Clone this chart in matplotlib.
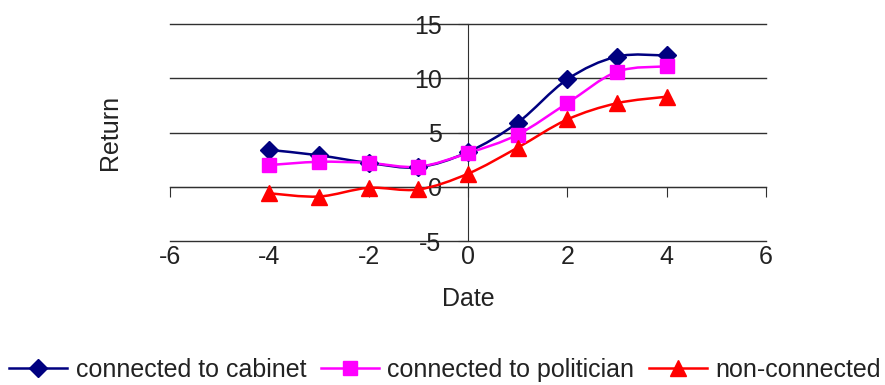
import matplotlib
matplotlib.use("Agg")
import matplotlib.pyplot as plt
from matplotlib.path import Path
from matplotlib.patches import PathPatch
import numpy as np

plt.rcParams['font.family'] = ['Liberation Sans', 'DejaVu Sans']
plt.rcParams['axes.unicode_minus'] = False

days = [-4, -3, -2, -1, 0, 1, 2, 3, 4]
cabinet = [3.4, 2.9, 2.2, 1.8, 3.2, 5.9, 9.9, 12.0, 12.1]
politician = [2.0, 2.3, 2.2, 1.85, 3.1, 4.8, 7.7, 10.6, 11.1]
non_connected = [-0.6, -0.9, -0.1, -0.25, 1.2, 3.6, 6.2, 7.7, 8.3]

x_ticks = [-6, -4, -2, 0, 2, 4, 6]
y_ticks = [-5, 0, 5, 10, 15]

series = [
    ("connected to cabinet", cabinet, "#000080", "D", 9),
    ("connected to politician", politician, "#ff00ff", "s", 10),
    ("non-connected", non_connected, "#ff0000", "^", 11),
]


def smooth_path(xs, ys):
    # Bezier curve through every point, same style as a "smoothed line"
    pts = np.column_stack([xs, ys]).astype(float)
    n = len(pts)
    verts = [pts[0]]
    codes = [Path.MOVETO]
    for i in range(n - 1):
        p0 = pts[max(i - 1, 0)]
        p1 = pts[i]
        p2 = pts[i + 1]
        p3 = pts[min(i + 2, n - 1)]
        c1 = p1 + (p2 - p0) / 6.0
        c2 = p2 - (p3 - p1) / 6.0
        verts += [c1, c2, p2]
        codes += [Path.CURVE4] * 3
    return Path(verts, codes)


fig = plt.figure(figsize=(8.85, 3.85), dpi=100)
ax = fig.add_axes([0.192, 0.374, 0.6734, 0.5636])

for y in y_ticks:
    ax.axhline(y, color="#303030", lw=1.0, zorder=1, clip_on=False)

handles = []
for label, vals, color, marker, ms in series:
    ax.add_patch(PathPatch(smooth_path(days, vals), facecolor="none",
                           edgecolor=color, lw=1.8, zorder=3))
    ax.plot(days, vals, linestyle="none", marker=marker, ms=ms,
            color=color, zorder=4)
    h, = ax.plot([], [], color=color, lw=1.8, marker=marker, ms=ms)
    handles.append(h)

ax.set_xlim(-6, 6)
ax.set_ylim(-5, 15)

for side in ("top", "right"):
    ax.spines[side].set_visible(False)
ax.spines["left"].set_position(("data", 0))
ax.spines["bottom"].set_position(("data", 0))
ax.spines["left"].set_color("#303030")
ax.spines["bottom"].set_color("#303030")

ax.set_xticks(x_ticks)
ax.set_yticks(y_ticks)
ax.tick_params(axis="x", direction="out", length=7, color="#303030",
               labelbottom=False)
ax.tick_params(axis="y", direction="out", length=7, color="#303030",
               labelsize=18, labelcolor="#222222", pad=12)

# x labels sit below the plot area, not on the zero line
sec = ax.secondary_xaxis("bottom")
sec.set_xticks(x_ticks)
sec.spines["bottom"].set_visible(False)
sec.tick_params(length=0, labelsize=18, labelcolor="#222222", pad=3)

fig.text(0.124, 0.655, "Return", rotation=90, ha="center", va="center",
         fontsize=18, color="#222222")
fig.text(0.529, 0.224, "Date", ha="center", va="center",
         fontsize=18, color="#222222")

fig.legend(handles, [s[0] for s in series], loc="center",
           bbox_to_anchor=(0.503, 1 - 370 / 385), ncol=3, frameon=False,
           fontsize=18, handlelength=2.3, handletextpad=0.35,
           columnspacing=0.6, borderpad=0.2, labelcolor="#222222")

fig.savefig("out.png", dpi=100)
